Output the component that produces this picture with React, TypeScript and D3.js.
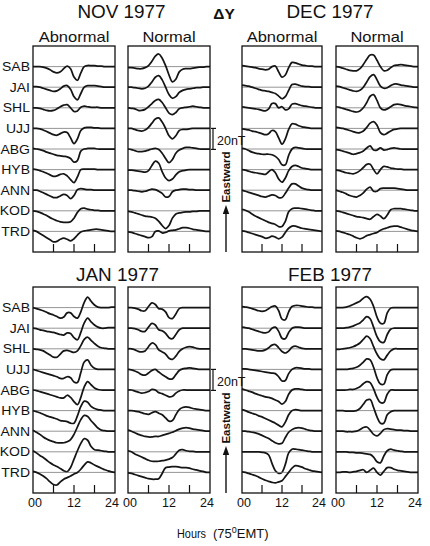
import React from "react";
import * as d3 from "d3";

const STATIONS = ["SAB", "JAI", "SHL", "UJJ", "ABG", "HYB", "ANN", "KOD", "TRD"];
const HOURS = [0, 1, 2, 3, 4, 5, 6, 7, 8, 9, 10, 11, 12, 13, 14, 15, 16, 17, 18, 19, 20, 21, 22, 23, 24];
const HOUR_TICKS = [6, 12, 18];
const HOUR_LABEL_VALUES = [0, 12, 24];
const HOUR_LABELS = ["00", "12", "24"];
const MONTHS = ["NOV 1977", "DEC 1977", "JAN 1977", "FEB 1977"];
const CONDITIONS = ["Abnormal", "Normal"];
const SCALE_NT = 20;

// ΔY deviations (nT, eastward positive), hourly 00..24 LT, one row per station
const novAbnormal = [
  [0, 0, 0, -0.5, -1.5, -3, -5, -6, -5, -2, 0.5, -2, -10, -13, -6, 0, 1, 1, 1, 0.5, 0.5, 0, 0, 0, 0],
  [0.5, 0.5, 0, -1, -2, -3, -4, -3.5, -1.5, 1, 1.5, -2, -9, -12, -6, 0, 1.5, 1.5, 1.5, 1, 0.5, 0, 0, 0, 0],
  [0, 0, -0.5, -1.5, -2.5, -3, -2.5, -1, 1, 2.5, 3, 0, -3.5, -3, 0.5, 1.5, 1, 0.5, 0.5, 0.5, 0, 0, 0, 0, 0],
  [0, 0, -0.5, -1.5, -3, -4.5, -6, -6.5, -5, -3.5, -4, -9, -14.5, -10, -2, 0.5, 1, 1, 0.5, 0.5, 0, 0, 0, 0, 0],
  [0.5, 0, -0.5, -1.5, -3, -4, -5, -6, -6.5, -7, -7.5, -9, -12.5, -11, -2, 0, 0.5, 0.5, 0.5, 0, 0, 0, 0, 0, 0],
  [0.5, 0, -1, -2, -3.5, -5, -6.5, -6, -4.5, -4, -6, -9.5, -12.5, -7, 0, 0.5, 0.5, 0.5, 0.5, 0, 0, 0, 0, 0, 0],
  [0, 0, -1, -2.5, -4, -5.5, -7, -7, -5.5, -4, -5, -8, -5, 0.5, 1.5, 1, 0.5, 0.5, 0, 0, 0, 0, 0, 0, 0],
  [0, -0.5, -1.5, -3, -4.5, -6.5, -8, -9.5, -10.5, -11, -11, -10.5, -7, -1.5, 2, 2.5, 1.5, 1, 0.5, 0.5, 0, 0, 0, 0, 0],
  [1, 0, -2, -4, -6, -8, -10, -9.5, -7.5, -6.5, -7.5, -9, -7, -3.5, -0.5, 0.5, 1, 1.5, 2, 2, 1.5, 1, 0.5, 0, 0],
];
const novNormal = [
  [-1, -1, -1.5, -2, -2, -1, 1, 5, 10, 12, 8, 1, -8, -14.5, -12, -5, -2.5, -2, -2, -1.5, -1, -0.5, -0.5, 0, 0],
  [0, 0, -0.5, -1, -1.5, -1, 1, 5, 9.5, 11, 7, 0, -7, -10.5, -9, -5, -3, -2, -1.5, -1, -0.5, -0.5, 0, 0, 0],
  [0, -0.5, -1, -2.5, -2.5, -1.5, 1, 4, 7, 8, 5, 0, -5, -6.5, -4.5, -1, 0, 0.5, 1, 1.5, 1, 0.5, 0, 0, 0],
  [0, 0, -1, -2, -2.5, -1.5, 1, 5, 9, 10, 6, 0, -7, -10, -7, -2, -1, -1, -0.5, 0, 0, 0, 0, 0, 0],
  [0, -0.5, -1.5, -2.5, -2.5, -2, -1, 0, 0.5, -0.5, -4, -9, -13, -10, -4, -1, 0.5, 1.5, 1.5, 1, 0.5, 0, 0, 0, 0],
  [-0.5, -0.5, -1, -1.5, -2, -2.5, -1, 4, 8, 6, -2, -8, -10.5, -9, -5, -2, -1, -0.5, 0, 0, 0, 0, 0, 0, 0],
  [0, 0, -0.5, -1, -1.5, -1, 0, 1, 0.5, -1, -3, -6.5, -6, -1.5, 0, 0.5, 1, 1, 0.5, 0.5, 0, 0, 0, 0, 0],
  [-0.5, -1, -2, -3, -4, -5, -5.5, -6, -7, -10, -14, -17, -14, -7, -3, -2, -1.5, -1, -1, -0.5, -0.5, 0, 0, 0, 0],
  [-0.5, -1, -2, -3, -4, -5, -6, -5, 0, 0.5, -1.5, -1, 0.5, 1, 1.5, 2.5, 3.5, 3.5, 3, 2, 1.5, 1, 0.5, 0, 0],
];
const decAbnormal = [
  [1, 0.5, 0, -0.5, -1, -2, -2.5, -3, -2.5, 0, 0.5, -5, -10, -8, -1, 4, 3.5, 2.5, 1.5, 1, 0.5, 0.5, 0, 0, 0],
  [2, 1.5, 1, 0, -1, -2, -3, -3.5, -4, -5, -6, -8.5, -11, -9, -3, 2.5, 3, 2, 1, 0.5, 0.5, 0, 0, 0, 0],
  [1, 0.5, 0, -0.5, -1, -1.5, -2.5, -3, -1, 4, 4, 0, 1, -2, -1, 3.5, 4, 3, 2, 1.5, 1, 0.5, 0, 0, 0],
  [-0.5, -1, -1.5, -2.5, -3, -4, -5, -6, -5, -2, -3, -9, -15, -10, -1, 4.5, 4, 2.5, 1.5, 1, 0.5, 0, 0, 0, 0],
  [0.5, 0, -1.5, -3, -4, -4.5, -5, -5, -5, -5.5, -7, -10, -15, -15, -6, 0, 1.5, 1, 0.5, 0, 0, 0, 0, 0, 0],
  [0, -0.5, -1.5, -2.5, -3, -3.5, -4, -4.5, -2, 0, -3, -9, -12, -8, -1, 3, 4, 3, 1.5, 1, 0.5, 0, 0, 0, 0],
  [0, -1, -2, -3, -4, -5, -6, -6.5, -5.5, -4.5, -5, -7, -7, -3, 2, 6, 6, 4, 2, 1, 0.5, 0, 0, 0, 0],
  [1.5, 0.5, -1, -3, -5, -6.5, -8, -9.5, -11, -12, -13, -15, -15, -10, -1, 2, 2.5, 2.5, 2, 1.5, 1, 0.5, 0, 0, 0],
  [0.5, 0, -1, -2, -3, -4, -5, -6.5, -6, -4.5, -5.5, -7, -5.5, -1, 3, 5, 5, 4, 3, 2.5, 2, 1.5, 1, 0.5, 0],
];
const decNormal = [
  [0, -0.5, -1.5, -2.5, -3.5, -4, -4, -2, 2, 7, 11, 11, 6, 0, -4, -3.5, -1, 1, 1.5, 2, 1.5, 1, 0.5, 0, 0],
  [1, 0.5, -0.5, -1.5, -2.5, -3.5, -4, -3, 0, 5, 10, 12, 7, 1, -1, -0.5, 1.5, 3, 3, 2, 1.5, 1, 0.5, 0, 0],
  [1, 0.5, -0.5, -1.5, -2.5, -3.5, -4, -3, 0, 5, 11, 12.5, 7, 0, -2, -1, 1, 3, 3.5, 3, 2, 1.5, 1, 0.5, 0],
  [1, 0.5, 0, -1, -2, -3, -4, -4, -2.5, 1, 5, 6.5, 3, -4, -6, -4.5, -2.5, -1, -0.5, 0, 0, 0, 0, 0, 0],
  [-0.5, -1, -2, -3, -4, -5, -4.5, -3.5, -2, 1, 3, -1, -1, 1, -1, -0.5, 0.5, 1, 0.5, 0, 0, 0, 0, 0, 0],
  [-0.5, -1, -2, -3, -3.5, -4, -3, -1, 2, 5, 5, 0, -4, 0, 3, 2.5, 1.5, 1, 0.5, 0.5, 0, 0, 0, 0, 0],
  [0, -1, -2, -3.5, -5, -6, -6.5, -5, -2.5, 1, 3, -1, -1, 1.5, 2, 2, 2, 2, 1.5, 1, 0.5, 0, 0, 0, 0],
  [0, -0.5, -1.5, -2.5, -3.5, -4.5, -5.5, -6, -6.5, -7.5, -8, -5.5, -3.5, -5, -7.5, -4, 1, 2, 2, 2, 1.5, 1, 0.5, 0, 0],
  [0.5, 0, -1, -2, -3, -4.5, -6, -7, -6, -4, -3, -2, -1, 1, 2.5, 3.5, 4.5, 5, 5, 4, 3, 2, 1, 0.5, 0],
];
const janAbnormal = [
  [0, -1, -2, -3, -4.5, -6, -7, -8.5, -10, -9, -5, -5, -8.5, -10, -4, 5, 10, 6, 2.5, 0.5, 0, 0, 0, 0.5, 0.5],
  [0, -0.5, -1.5, -2, -3, -3.5, -4, -5, -6, -6.5, -4.5, -5, -9, -11, -4, 5, 9.5, 6, 3, 1, 0, 0, 0.5, 0.5, 0.5],
  [0, -0.5, -1, -2, -4, -6, -8, -8, -5, -2, -1.5, -2.5, -3.5, -2, 3, 9, 11, 8, 5, 2.5, 1, 0.5, 0, 0, 0],
  [0, -1, -2, -3, -4, -5, -6, -7, -8.5, -8.5, -7, -8, -12, -12.5, -3, 7, 9, 4, 1, 0, 0, 0, 0, 0, 0],
  [0, -0.5, -1.5, -2.5, -3.5, -4.5, -5.5, -6.5, -7.5, -7.5, -5, -7, -11, -14, -7, 3, 8, 5, 2, 0.5, 0, 0, 0, 0, 0],
  [0, -1, -2, -3.5, -5, -6, -7, -8, -9.5, -10, -10.5, -12, -12, -5, 4, 9, 8, 4, 2, 1, 0.5, 0, 0, 0, 0],
  [1, -1, -3, -5.5, -7.5, -9, -10, -11, -11, -11, -10, -8, -3, 4, 11, 15, 14, 10, 6.5, 3, 1, 0.5, 0, 0, 0],
  [1, -1, -3.5, -5.5, -8, -10.5, -12.5, -14, -16, -18, -19, -15, -7, 1, 8, 12.5, 11, 5, 2, 1.5, 1, 0.5, 0, 0, 0],
  [1, 0, -1.5, -3.5, -6, -9, -11.5, -12, -9, -6.5, -5, -3.5, -1.5, 0, 3, 7, 10, 9, 7, 5.5, 4, 2.5, 1.5, 0.5, 0],
];
const janNormal = [
  [0, 0, -0.5, -1.5, -3, -3, 1, 4.5, 3, -1, -1.5, -4, -9.5, -10.5, -6, -1, 0, 0, 0, 0, 0, 0, 0, 0, 0],
  [0, 0, -0.5, -1.5, -3, -3, 1, 4.5, 3, -1.5, -2.5, -5, -9, -10, -6, -1.5, 0, 0, 0, 0, 0, 0, 0, 0, 0],
  [0, 0, -1, -2.5, -3, -2, 2, 5.5, 4, -1, -3, -5, -9, -10, -7, -2.5, 0, 1.5, 2, 1.5, 0.5, 0, 0, 0, 0],
  [0, -0.5, -1.5, -3, -5, -5.5, -3.5, -1, 0, -2.5, -5, -7, -9, -9, -5, -1, 0.5, 1, 1.5, 1, 0.5, 0, 0, 0, 0],
  [0, 0, -1, -2, -3, -2.5, -1.5, 0.5, 0, -2.5, -3.5, -5, -6.5, -6, -3, -1, 0, 0, 0, 0, 0, 0, 0, 0, 0],
  [0, 0, -0.5, -1, -2, -3, -3.5, -2, -1, -2.5, -4, -7, -10, -9.5, -4, 1, 3, 3.5, 3, 2, 1.5, 1, 0.5, 0, 0],
  [1, 0, -1.5, -3, -4, -5, -5.5, -5.5, -5, -5, -4, -3, -2, -1, 0.5, 2, 3, 3.5, 3, 2, 1.5, 1, 0.5, 0, 0],
  [1, 0, -2, -3.5, -5, -6.5, -8, -9, -9, -9, -8.5, -8, -7, -5.5, -2, 1.5, 2, 1, 0.5, 0.5, 0, 0, 0, 0, 0],
  [-0.5, -1, -2, -3, -4, -5, -6, -6.5, -6.5, -6, -1, 4.5, 5, 5.5, 5.5, 5, 4.5, 4.5, 4, 3, 2.5, 1.5, 1, 0, 0],
];
const febAbnormal = [
  [1, 0.5, 0, -1, -2, -3, -3.5, -3, -1, 1, 1.5, -3, -11, -11.5, -4, 1, 2, 2, 1.5, 1, 0.5, 0.5, 0, 0, 0],
  [1, 0.5, 0, -1, -2, -3, -4, -4.5, -3.5, 0, 1, -3, -9.5, -10, -4, 0, 1, 1, 0.5, 0, 0, 0, 0, 0, 0],
  [0, 0, -0.5, -1, -1.5, -2, -2, -1, 1, 3.5, 4, 1, -2.5, -4, -2, 1.5, 2.5, 1.5, 0.5, 0, 0, 0, 0, 0, 0],
  [0.5, 0.5, 0, -0.5, -1, -1.5, -2, -2.5, -3, -3.5, -4, -7, -11, -10.5, -4, 0, 1.5, 1.5, 1, 0.5, 0.5, 0, 0, 0, 0],
  [1, 0, -1, -2, -3.5, -4.5, -5.5, -6.5, -7, -8, -9.5, -11, -13.5, -11, -4, 0, 1, 1, 0.5, 0, 0, 0, 0, 0, 0],
  [1, 0, -1.5, -2.5, -3.5, -5, -6, -7.5, -9, -10.5, -12, -14, -15.5, -11, -4, 0, 1, 0.5, 0, 0, 0, 0, 0, 0, 0],
  [0, 0, -0.5, -1, -1.5, -2.5, -4, -5.5, -7, -9, -11, -12, -11.5, -6, -1, 1.5, 3, 3.5, 3, 2, 1, 0.5, 0, 0, 0],
  [0, 0, 0, 0, 0, 0, -0.5, -1, -3, -11, -18, -20.5, -19.5, -12, -1, 2.5, 2.5, 2, 1.5, 1, 0.5, 0, 0, 0, 0],
  [0.5, 0, -1, -2, -3, -4.5, -6, -7.5, -8.5, -9.5, -10, -9, -8, -4, 0, 4, 6.5, 6, 5, 3.5, 2.5, 1.5, 1, 0.5, 0],
];
const febNormal = [
  [0, 0, 0, 0.5, 1.5, 3, 4.5, 6, 9, 10.5, 8, 1, -9, -15, -15, -5, -0.5, 0, 0, 0, 0, 0, 0, 0, 0],
  [0, 0, 0, 0.5, 1, 2, 3.5, 5, 8, 11, 9, 1, -8, -13, -13.5, -6, -1, 0, 0, 0, 0, 0, 0, 0, 0],
  [-0.5, -0.5, 0, 0.5, 1, 2, 3.5, 5.5, 9, 12, 9.5, 2, -5, -9.5, -10.5, -6, -2, 0, 0, 0, 0, 0, 0, 0, 0],
  [0, 0, 0, 0, 0.5, 1, 2, 4, 7, 10, 9, 2, -8, -14, -14, -5, -0.5, 0, 0, 0, 0, 0, 0, 0, 0],
  [0, 0, 0, 0, 0.5, 0.5, 1.5, 3, 6, 8, 7, 1, -7, -12, -12, -4, 0, 0, 0, 0, 0, 0, 0, 0, 0],
  [0, 0, 0, -0.5, -0.5, -0.5, 0, 2, 6, 10, 10.5, 3, -6, -12, -12, -4, -1, 0, 0, 0, 0, 0, 0, 0, 0],
  [0, 0, 0, -0.5, -0.5, -0.5, 0, 1.5, 3.5, 4, 1, -3, -4.5, -2, 1.5, 2.5, 2, 1.5, 1, 1, 0.5, 0.5, 0, 0, 0],
  [0, 0, 0, 0, -0.5, -0.5, -1, -1, -1.5, -2, -2.5, -5, -9.5, -10.5, -4, 1, 2.5, 1.5, 1, 0.5, 0, 0, 0, 0, 0],
  [0, 0, 0.5, 0.5, 0, 0.5, 1, 2, 2.5, 0, 2, 4, 0, -2.5, 1, 4.5, 4.5, 3, 2, 1.5, 1, 0.5, 0, 0, 0],
];

const MONTH_DATA = [
  [novAbnormal, novNormal],
  [decAbnormal, decNormal],
  [janAbnormal, janNormal],
  [febAbnormal, febNormal],
];

// layout
const W = 430;
const H = 546;
const COL_X: [number, number][] = [
  [33, 115],
  [128, 210],
  [242, 322],
  [336, 418],
];
const ROW_TOP = [46, 287];
const PANEL_H = 206;
const NT_PX = 21; // pixels for 20 nT
const FONT = "'Liberation Sans', Arial, Helvetica, sans-serif";
const TITLE_DX = [0, 0, -4, 0];
const LABEL_DX = [2, 0, -3];

function Panel({ data, x0, x1, top, showLabels, showHours }: any) {
  const xs = d3.scaleLinear().domain([0, 24]).range([x0, x1]);
  const ys = d3.scaleLinear().domain([-1, STATIONS.length]).range([top, top + PANEL_H]);
  const bottom = top + PANEL_H;
  return (
    <g>
      {STATIONS.map((s, i) => {
        const base = ys(i);
        const yv = d3.scaleLinear().domain([0, SCALE_NT]).range([base, base - NT_PX]);
        const line = d3
          .line<number>()
          .x((_, j) => xs(HOURS[j]))
          .y((v) => yv(v))
          .curve(d3.curveCatmullRom.alpha(0.5));
        return (
          <g key={s}>
            <line x1={x0} x2={x1} y1={base} y2={base} stroke="#7a7a7a" strokeWidth={0.8} />
            <path d={line(data[i]) || ""} fill="none" stroke="#151515" strokeWidth={1.75} strokeLinejoin="round" />
            {showLabels && (
              <text
                transform={`translate(30,${base + 4.5}) scale(1.12,1)`}
                textAnchor="end"
                fontSize={12.5}
                fontFamily={FONT}
                fill="#111"
              >
                {s}
              </text>
            )}
          </g>
        );
      })}
      {HOUR_TICKS.map((h) => (
        <line key={h} x1={xs(h)} x2={xs(h)} y1={bottom} y2={bottom - 8} stroke="#111" strokeWidth={1.2} />
      ))}
      <rect x={x0} y={top} width={x1 - x0} height={PANEL_H} fill="none" stroke="#111" strokeWidth={1.3} />
      {showHours &&
        HOUR_LABEL_VALUES.map((h, k) => (
          <text
            key={h}
            x={xs(h) + LABEL_DX[k]}
            y={bottom + 14}
            textAnchor="middle"
            fontSize={12.5}
            fontFamily={FONT}
            fill="#111"
          >
            {HOUR_LABELS[k]}
          </text>
        ))}
    </g>
  );
}

function ScaleBar({ top }: { top: number }) {
  const ys = d3.scaleLinear().domain([-1, STATIONS.length]).range([top, top + PANEL_H]);
  const base = ys(3);
  const yv = d3.scaleLinear().domain([0, SCALE_NT]).range([base, base + NT_PX]);
  const y0 = yv(0);
  const y1 = yv(SCALE_NT);
  const x = 213;
  const ax = 226;
  const tip = top + 159;
  const bottom = top + PANEL_H;
  return (
    <g>
      <line x1={x} x2={x} y1={y0} y2={y1} stroke="#111" strokeWidth={1.2} />
      <line x1={x - 2} x2={x + 3} y1={y0} y2={y0} stroke="#111" strokeWidth={1.2} />
      <line x1={x - 2} x2={x + 3} y1={y1} y2={y1} stroke="#111" strokeWidth={1.2} />
      <text x={x + 4} y={y0 + 17} fontSize={12.5} fontFamily={FONT} fill="#111">
        {SCALE_NT}nT
      </text>
      <text
        transform={`translate(${ax + 4},${top + 131}) rotate(-90)`}
        textAnchor="middle"
        fontSize={11.5}
        fontWeight="bold"
        fontFamily={FONT}
        fill="#111"
      >
        Eastward
      </text>
      <line x1={ax} x2={ax} y1={bottom} y2={tip + 6} stroke="#111" strokeWidth={1.4} />
      <path d={`M${ax},${tip} L${ax - 3.2},${tip + 9} L${ax + 3.2},${tip + 9} Z`} fill="#111" />
    </g>
  );
}

export default function App() {
  return (
    <div style={{ position: "absolute", left: 0, top: 0, width: W, height: H, background: "#fff" }}>
      <svg width={W} height={H} viewBox={`0 0 ${W} ${H}`} style={{ display: "block" }}>
        <rect width={W} height={H} fill="#fff" />
        {MONTHS.map((m, mi) => {
          const row = mi < 2 ? 0 : 1;
          const pair = mi % 2;
          const top = ROW_TOP[row];
          const cA = COL_X[pair * 2];
          const cN = COL_X[pair * 2 + 1];
          const cx = (cA[0] + cN[1]) / 2 + TITLE_DX[mi];
          const titleY = row === 0 ? 18 : 281;
          return (
            <g key={m}>
              <text
                transform={`translate(${cx},${titleY}) scale(1.08,1)`}
                textAnchor="middle"
                fontSize={17.5}
                fontFamily={FONT}
                fill="#111"
              >
                {m}
              </text>
              {row === 0 &&
                CONDITIONS.map((c, ci) => {
                  const col = ci === 0 ? cA : cN;
                  return (
                    <text
                      key={c}
                      transform={`translate(${(col[0] + col[1]) / 2},41.5) scale(1.18,1)`}
                      textAnchor="middle"
                      fontSize={14}
                      fontFamily={FONT}
                      fill="#111"
                    >
                      {c}
                    </text>
                  );
                })}
              {MONTH_DATA[mi].map((d, ci) => {
                const col = ci === 0 ? cA : cN;
                return (
                  <Panel
                    key={ci}
                    data={d}
                    x0={col[0]}
                    x1={col[1]}
                    top={top}
                    showLabels={pair === 0 && ci === 0}
                    showHours={row === 1}
                  />
                );
              })}
            </g>
          );
        })}
        <text x={224} y={18.5} textAnchor="middle" fontSize={15.5} fontWeight="bold" fontFamily={FONT} fill="#111">
          ΔY
        </text>
        {ROW_TOP.map((t) => (
          <ScaleBar key={t} top={t} />
        ))}
        <text x={177} y={538} fontSize={13} fontFamily={FONT} fill="#111" textLength={29} lengthAdjust="spacingAndGlyphs">
          Hours
        </text>
        <text x={213} y={538} fontSize={13} fontFamily={FONT} fill="#111">
          (75
          <tspan dy={-5.5} fontSize={9}>
            0
          </tspan>
          <tspan dy={5.5}>EMT)</tspan>
        </text>
      </svg>
    </div>
  );
}
